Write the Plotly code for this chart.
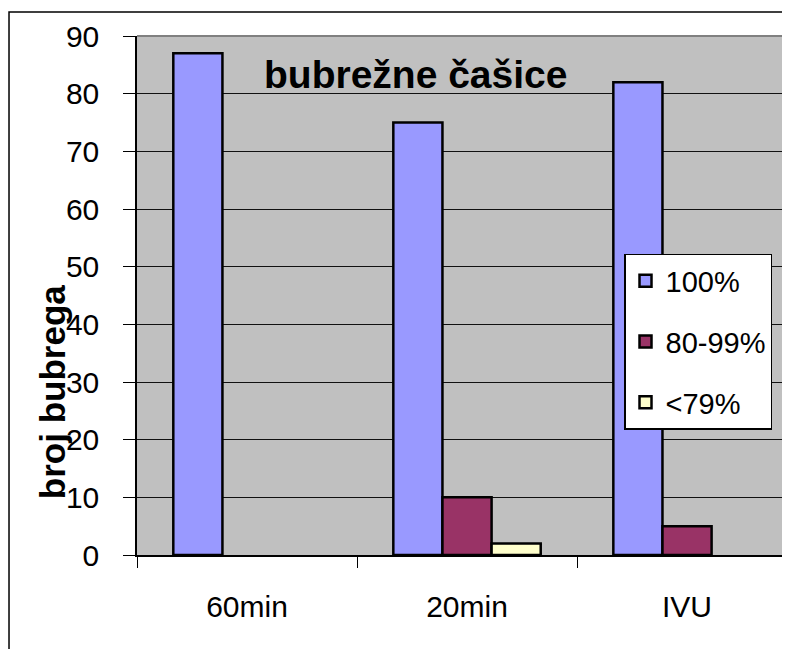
import plotly.graph_objects as go

categories = ["60min", "20min", "IVU"]
series_names = ["100%", "80-99%", "<79%"]
v_100 = [87, 75, 82]
v_80_99 = [None, 10, 5]
v_79 = [None, 2, None]
y_ticks = [0, 10, 20, 30, 40, 50, 60, 70, 80, 90]
colors = ["#9999FF", "#993366", "#FFFFCC"]

FONT = "Liberation Sans, Arial, sans-serif"

fig = go.Figure()
for name, vals, col in zip(series_names, [v_100, v_80_99, v_79], colors):
    fig.add_trace(go.Bar(
        x=categories, y=vals, name=name, legendgroup=name,
        marker=dict(color=col, line=dict(color="black", width=2.5)),
    ))

fig.update_layout(
    width=782, height=641, autosize=False,
    margin=dict(l=129, r=0, t=28, b=94),
    paper_bgcolor="white", plot_bgcolor="#C0C0C0",
    barmode="group", bargap=0.33, bargroupgap=0,
    font=dict(family=FONT, color="black", size=30),
    showlegend=True,
    legend=dict(
        x=0.7458, y=0.58, xanchor="left", yanchor="top",
        bgcolor="white", bordercolor="black", borderwidth=1.5,
        font=dict(size=29, family=FONT, color="black"),
        traceorder="grouped", tracegroupgap=20,
    ),
    xaxis=dict(
        type="category", range=[-0.5, 2.468],
        tickson="boundaries", ticks="outside", ticklen=11, tickcolor="black",
        showline=True, linecolor="black", linewidth=1.5,
        showgrid=False, ticklabelstandoff=24,
        tickfont=dict(size=30),
    ),
    yaxis=dict(
        range=[0, 90], tickvals=y_ticks,
        ticks="outside", ticklen=12, tickcolor="black",
        showline=True, linecolor="black", linewidth=1.5,
        gridcolor="#111111", gridwidth=1.2, zeroline=False,
        ticklabelstandoff=18, tickfont=dict(size=30),
    ),
    annotations=[
        dict(text="<b>bubrežne čašice</b>", xref="paper", yref="paper",
             x=0.427, y=0.925, xanchor="center", yanchor="middle",
             showarrow=False, font=dict(size=39, family=FONT)),
        dict(text="<b>broj bubrega</b>", xref="paper", yref="paper",
             x=-0.130, y=0.314, xanchor="center", yanchor="middle",
             showarrow=False, textangle=-90,
             font=dict(size=35, family=FONT)),
    ],
    shapes=[
        dict(type="rect", xref="paper", yref="paper", x0=-0.1960, x1=1.2,
             y0=-0.3, y1=1.0462, line=dict(color="black", width=1.5),
             fillcolor="rgba(0,0,0,0)", layer="below"),
        dict(type="line", xref="paper", yref="paper", x0=0, x1=1, y0=1, y1=1,
             line=dict(color="#808080", width=2)),
    ],
)

fig.write_html("out.html")
